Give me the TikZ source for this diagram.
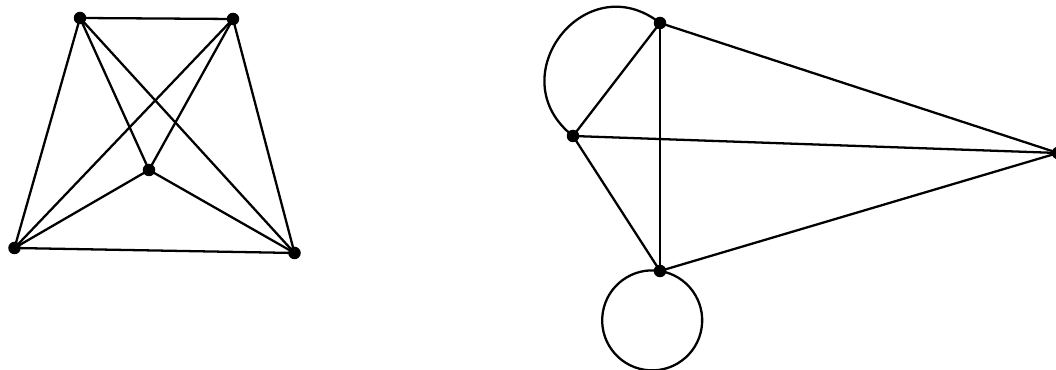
\documentclass[tikz,border=0pt]{standalone}
\begin{document}
\begin{tikzpicture}[line cap=round, line join=round, line width=1.3pt]
  \useasboundingbox (0,0) rectangle (21.12,7.40);
  % complete graph on five vertices
  \coordinate (A) at (1.60,7.04);
  \coordinate (B) at (4.66,7.02);
  \coordinate (C) at (2.98,4.00);
  \coordinate (D) at (0.29,2.44);
  \coordinate (E) at (5.89,2.34);
  \foreach \u/\v in {A/B,A/C,A/D,A/E,B/C,B/D,B/E,C/D,C/E,D/E}
    \draw (\u)--(\v);
  % graph with a double edge and a loop
  \coordinate (P) at (13.20,6.94);
  \coordinate (Q) at (11.46,4.68);
  \coordinate (R) at (21.16,4.34);
  \coordinate (S) at (13.20,1.98);
  \foreach \u/\v in {P/Q,P/R,P/S,Q/R,Q/S,R/S}
    \draw (\u)--(\v);
  \draw (P) to[out=142, in=142, looseness=1.7] (Q);
  \draw (S) arc[start angle=81, delta angle=360, radius=1cm];
  \foreach \p in {A,B,C,D,E,P,Q,R,S}
    \fill (\p) circle (0.125);
\end{tikzpicture}
\end{document}
